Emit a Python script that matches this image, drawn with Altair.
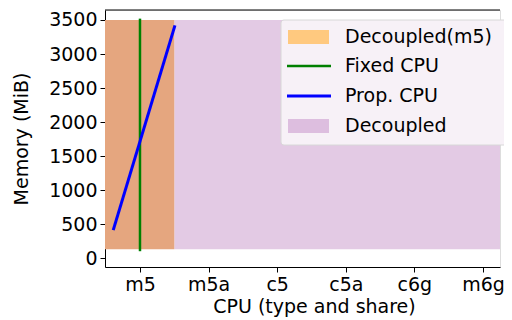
import altair as alt
import pandas as pd

# Categories on the x axis
cpu_types = ["m5", "m5a", "c5", "c5a", "c6g", "m6g"]
y_ticks = [0, 500, 1000, 1500, 2000, 2500, 3000, 3500]

# Region bands (x in category index units, y in MiB)
region_names = ["Decoupled", "Decoupled(m5)"]
region_x0 = [0.5, -0.51]
region_x1 = [5.248, 0.5]
region_y0 = [128, 128]
region_y1 = [3500, 3500]

# Fixed CPU (vertical line at m5)
fixed_x = [0, 0]
fixed_y = [100, 3520]

# Proportional CPU line
prop_x = [-0.39, 0.51]
prop_y = [410, 3420]

legend_labels = ["Decoupled(m5)", "Fixed CPU", "Prop. CPU", "Decoupled"]

X_DOMAIN = [-0.51, 5.248]
Y_DOMAIN = [-132, 3647]
W, H = 395, 257
FONT = "DejaVu Sans"
FS = 19
TFS = 19

label_expr = "[" + ",".join("'%s'" % c for c in cpu_types) + "][datum.value]"

xs = alt.Scale(domain=X_DOMAIN, nice=False, zero=False)
ys = alt.Scale(domain=Y_DOMAIN, nice=False, zero=False)

x_axis = alt.Axis(values=list(range(len(cpu_types))), labelExpr=label_expr,
                  title="CPU (type and share)", grid=False, domainColor="black",
                  tickColor="black", tickSize=5, labelFontSize=TFS, titleFontSize=FS,
                  labelFont=FONT, titleFont=FONT, labelColor="black", titleColor="black",
                  titleFontWeight="normal", labelPadding=3, titlePadding=3,
                  labelOverlap=False, titleX=209, titleAlign="center")
y_axis = alt.Axis(values=y_ticks, format="d", title="Memory (MiB)", grid=False,
                  domainColor="black", tickColor="black", tickSize=5,
                  labelFontSize=TFS, titleFontSize=FS,
                  labelFont=FONT, titleFont=FONT, labelColor="black", titleColor="black",
                  titleFontWeight="normal", labelPadding=3, titlePadding=17,
                  labelOverlap=False)

regions = pd.DataFrame({"name": region_names, "x0": region_x0, "x1": region_x1,
                        "y0": region_y0, "y1": region_y1})
rects = alt.Chart(regions).mark_rect().encode(
    x=alt.X("x0:Q", scale=xs, axis=x_axis),
    x2="x1:Q",
    y=alt.Y("y0:Q", scale=ys, axis=y_axis),
    y2="y1:Q",
    color=alt.Color("name:N", scale=alt.Scale(domain=region_names,
                                               range=["#E3CAE4", "#E5A67F"]), legend=None),
)

fixed = alt.Chart(pd.DataFrame({"x": fixed_x, "y": fixed_y})).mark_line(
    color="#008000", strokeWidth=2.5).encode(
    x=alt.X("x:Q", scale=xs, axis=x_axis), y=alt.Y("y:Q", scale=ys, axis=y_axis))

prop = alt.Chart(pd.DataFrame({"x": prop_x, "y": prop_y})).mark_line(
    color="#0000FF", strokeWidth=3).encode(
    x=alt.X("x:Q", scale=xs, axis=x_axis), y=alt.Y("y:Q", scale=ys, axis=y_axis))

top_spine = alt.Chart(pd.DataFrame({"a": [0]})).mark_rule(color="black", strokeWidth=1).encode(
    x=alt.value(0), x2=alt.value(W), y=alt.value(0))

# Legend (drawn manually)
LX = 176
legend_box = alt.Chart(pd.DataFrame({"a": [0]})).mark_rect(
    fill="#F7F1F7", stroke="#D8D8D8", strokeWidth=1, cornerRadius=3).encode(
    x=alt.value(LX), x2=alt.value(LX + 230), y=alt.value(10), y2=alt.value(135))

row_y = [27, 56, 86, 116]
sw1 = alt.Chart(pd.DataFrame({"a": [0]})).mark_rect(fill="#FFC97F").encode(
    x=alt.value(LX + 7), x2=alt.value(LX + 48), y=alt.value(row_y[0] - 7), y2=alt.value(row_y[0] + 7))
sw2 = alt.Chart(pd.DataFrame({"a": [0]})).mark_rule(color="#008000", strokeWidth=2.5).encode(
    x=alt.value(LX + 6), x2=alt.value(LX + 50), y=alt.value(row_y[1]))
sw3 = alt.Chart(pd.DataFrame({"a": [0]})).mark_rule(color="#0000FF", strokeWidth=3).encode(
    x=alt.value(LX + 6), x2=alt.value(LX + 50), y=alt.value(row_y[2]))
sw4 = alt.Chart(pd.DataFrame({"a": [0]})).mark_rect(fill="#DDBEDF").encode(
    x=alt.value(LX + 7), x2=alt.value(LX + 48), y=alt.value(row_y[3] - 7), y2=alt.value(row_y[3] + 7))

texts = []
for lbl, ry in zip(legend_labels, row_y):
    texts.append(alt.Chart(pd.DataFrame({"t": [lbl]})).mark_text(
        align="left", baseline="middle", font=FONT, fontSize=FS, color="black").encode(
        x=alt.value(LX + 64), y=alt.value(ry), text="t:N"))

chart = alt.layer(rects, fixed, prop, top_spine, legend_box, sw1, sw2, sw3, sw4, *texts).properties(
    width=W, height=H,
    autosize=alt.AutoSizeParams(type="none"),
    padding={"left": 97, "top": 2, "right": 4, "bottom": 50},
).configure_view(stroke=None).configure(background="white")

chart.save("out.html", embed_options={"renderer": "svg", "actions": False})
